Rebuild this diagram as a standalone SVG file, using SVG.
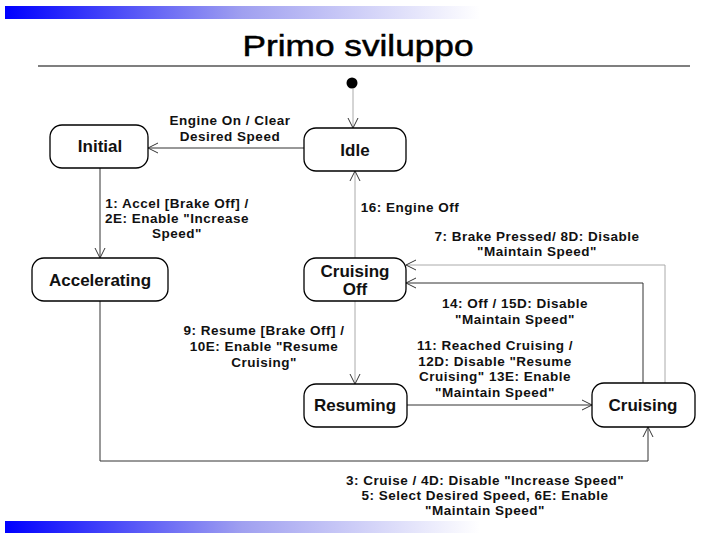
<svg xmlns="http://www.w3.org/2000/svg" width="720" height="540" viewBox="0 0 720 540">
<defs>
  <linearGradient id="bar" x1="0" y1="0" x2="1" y2="0">
    <stop offset="0" stop-color="#0000ff"/>
    <stop offset="0.5" stop-color="#a0a0f0"/>
    <stop offset="1" stop-color="#ffffff"/>
  </linearGradient>
  <marker id="open" markerWidth="12" markerHeight="12" refX="11" refY="6" orient="auto" markerUnits="userSpaceOnUse">
    <path d="M1,1 L11,6 L1,11" fill="none" stroke="#333" stroke-width="1"/>
  </marker>
</defs>
<style>
  .node rect { fill: #fff; stroke: #000; stroke-width: 1.3; }
  .node text { font-family: "Liberation Sans", Arial, sans-serif; font-weight: bold; font-size: 17px; text-anchor: middle; fill: #111; }
  .lbl { font-family: "Liberation Sans", Arial, sans-serif; font-weight: bold; font-size: 13.5px; letter-spacing: 0.5px; text-anchor: middle; fill: #111; }
  .c { fill: none; stroke: #333; stroke-width: 1; marker-end: url(#open); }
  .g { stroke: #aaa; }
</style>
<rect width="720" height="540" fill="#fff"/>
<rect x="5" y="6" width="475" height="13" fill="url(#bar)"/>
<rect x="5" y="521" width="475" height="12" fill="url(#bar)"/>
<text x="358" y="56" font-family="Liberation Sans, Arial, sans-serif" font-size="29" text-anchor="middle" textLength="231" lengthAdjust="spacingAndGlyphs" fill="#000" stroke="#000" stroke-width="0.5">Primo sviluppo</text>
<line x1="38" y1="66" x2="690" y2="66" stroke="#000" stroke-width="1.2"/>

<g id="connectors">
  <path class="c g" d="M353,89 V128"/>
  <path class="c" d="M304,148 H148"/>
  <path class="c" d="M100,168 V258"/>
  <path class="c g" d="M355,258 V171"/>
  <path class="c g" d="M355,301 V384"/>
  <path class="c" d="M407,405 H592"/>
  <path class="c" d="M643,383 V283 H406"/>
  <path class="c g" d="M665,383 V265 H406"/>
  <path class="c" d="M100,301 V461 H648 V427"/>
</g>

<g id="initial-dot"><circle cx="352" cy="83" r="5.5" fill="#000"/></g>
<g id="initial" class="node"><rect x="50" y="125" width="98" height="43" rx="12"/><text x="100" y="152">Initial</text></g>
<g id="idle" class="node"><rect x="304" y="128" width="102" height="43" rx="12"/><text x="355" y="156">Idle</text></g>
<g id="accelerating" class="node"><rect x="32" y="258" width="136" height="43" rx="12"/><text x="100" y="286">Accelerating</text></g>
<g id="cruising-off" class="node"><rect x="304" y="258" width="102" height="43" rx="12"/><text x="355" y="277">Cruising</text><text x="355" y="295">Off</text></g>
<g id="resuming" class="node"><rect x="304" y="384" width="103" height="43" rx="12"/><text x="355" y="411">Resuming</text></g>
<g id="cruising" class="node"><rect x="592" y="383" width="103" height="44" rx="12"/><text x="643" y="411">Cruising</text></g>

<g id="labels">
  <text class="lbl" x="230" y="125">Engine On / Clear</text>
  <text class="lbl" x="230" y="141">Desired Speed</text>
  <text class="lbl" x="177" y="208">1: Accel [Brake Off] /</text>
  <text class="lbl" x="177" y="223">2E: Enable "Increase</text>
  <text class="lbl" x="177" y="238">Speed"</text>
  <text class="lbl" x="410" y="212">16: Engine Off</text>
  <text class="lbl" x="537" y="241">7: Brake Pressed/ 8D: Disable</text>
  <text class="lbl" x="537" y="256">"Maintain Speed"</text>
  <text class="lbl" x="515" y="308">14: Off / 15D: Disable</text>
  <text class="lbl" x="515" y="324">"Maintain Speed"</text>
  <text class="lbl" x="264" y="335">9: Resume [Brake Off] /</text>
  <text class="lbl" x="264" y="351">10E: Enable "Resume</text>
  <text class="lbl" x="264" y="367">Cruising"</text>
  <text class="lbl" x="495" y="350">11: Reached Cruising /</text>
  <text class="lbl" x="495" y="366">12D: Disable "Resume</text>
  <text class="lbl" x="495" y="381">Cruising" 13E: Enable</text>
  <text class="lbl" x="495" y="397">"Maintain Speed"</text>
  <text class="lbl" x="485" y="485">3: Cruise / 4D: Disable "Increase Speed"</text>
  <text class="lbl" x="485" y="500">5: Select Desired Speed, 6E: Enable</text>
  <text class="lbl" x="485" y="515">"Maintain Speed"</text>
</g>
</svg>
